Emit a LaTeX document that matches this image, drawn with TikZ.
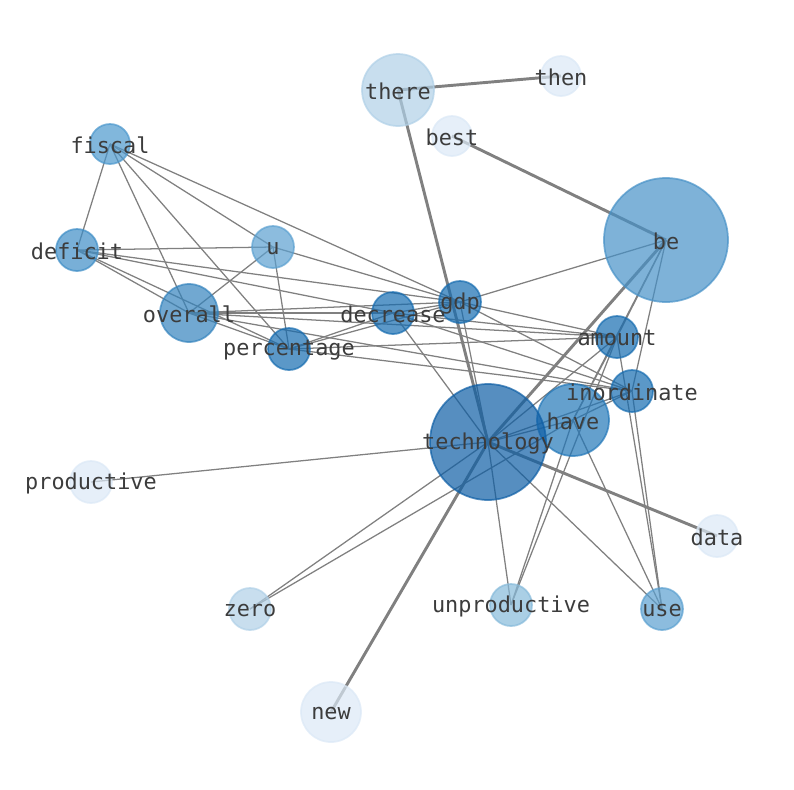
\documentclass[tikz,border=0pt]{standalone}
\usepackage{fontspec}
\setmonofont{DejaVu Sans Mono}
\usetikzlibrary{backgrounds}
\definecolor{linkgray}{RGB}{128,128,128}
\definecolor{wordink}{RGB}{60,60,60}
\definecolor{c_tech}{RGB}{14,94,165}
\definecolor{c_be}{RGB}{71,145,199}
\definecolor{c_have}{RGB}{34,119,184}
\definecolor{c_dark}{RGB}{22,108,176}
\definecolor{c_overall}{RGB}{52,131,189}
\definecolor{c_fiscal}{RGB}{76,152,205}
\definecolor{c_deficit}{RGB}{62,141,198}
\definecolor{c_u}{RGB}{91,160,208}
\definecolor{c_unprod}{RGB}{134,186,218}
\definecolor{c_light}{RGB}{176,208,231}
\definecolor{c_pale}{RGB}{219,232,246}

\begin{document}
\begin{tikzpicture}[x=.75pt,y=-.75pt,
    word/.style={circle,inner sep=0pt,minimum size=31.5pt,fill=#1,draw=#1,fill opacity=.7,draw opacity=.7,line width=1.3pt},
    wordtext/.style={font=\ttfamily\fontsize{16.4}{18}\selectfont,text=wordink,inner sep=0pt,yshift=-1pt},
    link/.style={linkgray,line width=.95pt},
    heavylink/.style={linkgray,line width=2.2pt}]
  \useasboundingbox (0,0) rectangle (794,790);

  % words
  \node[word=c_light,minimum size=54pt] (there) at (398,90) {};
  \node[word=c_pale,minimum size=30pt] (then) at (561,76) {};
  \node[word=c_pale,minimum size=30pt] (best) at (452,136) {};
  \node[word=c_fiscal,minimum size=30pt] (fiscal) at (110,144) {};
  \node[word=c_be,minimum size=93pt] (be) at (666,240) {};
  \node[word=c_deficit] (deficit) at (77,250) {};
  \node[word=c_u] (u) at (273,247) {};
  \node[word=c_overall,minimum size=43.5pt] (overall) at (189,313) {};
  \node[word=c_dark] (decrease) at (393,313) {};
  \node[word=c_dark] (gdp) at (460,302) {};
  \node[word=c_dark] (percentage) at (289,349) {};
  \node[word=c_dark] (amount) at (617,337) {};
  \node[word=c_dark] (inordinate) at (632,391) {};
  \node[word=c_have,minimum size=54pt] (have) at (573,420) {};
  \node[word=c_tech,minimum size=87pt] (technology) at (488,442) {};
  \node[word=c_pale] (productive) at (91,482) {};
  \node[word=c_pale] (data) at (717,536) {};
  \node[word=c_light] (zero) at (250,609) {};
  \node[word=c_unprod] (unproductive) at (511,605) {};
  \node[word=c_u] (use) at (662,609) {};
  \node[word=c_pale,minimum size=45pt] (new) at (331,712) {};

  % co-occurrence links
  \begin{scope}[on background layer]
    \draw[heavylink] (there.center) -- (then.center);
    \draw[heavylink] (there.center) -- (technology.center);
    \draw[heavylink] (best.center) -- (be.center);
    \draw[heavylink] (be.center) -- (technology.center);
    \draw[heavylink] (technology.center) -- (new.center);
    \draw[heavylink] (technology.center) -- (data.center);
    \foreach \a/\b in {fiscal/deficit,fiscal/overall,fiscal/percentage,fiscal/u,fiscal/gdp,
        deficit/u,deficit/overall,deficit/percentage,deficit/gdp,deficit/decrease,
        u/overall,u/percentage,u/gdp,
        overall/percentage,overall/gdp,overall/decrease,overall/inordinate,overall/amount,
        percentage/gdp,percentage/decrease,percentage/amount,percentage/inordinate,
        decrease/gdp,decrease/amount,decrease/inordinate,decrease/technology,
        gdp/amount,gdp/inordinate,gdp/technology,gdp/be,
        be/amount,be/inordinate,be/have,
        amount/have,amount/technology,amount/unproductive,amount/use,
        inordinate/have,inordinate/technology,inordinate/use,
        have/technology,have/zero,have/unproductive,have/use,
        technology/productive,technology/zero,technology/unproductive,technology/use}
      \draw[link] (\a.center) -- (\b.center);
  \end{scope}

  % labels
  \foreach \w in {there,then,best,fiscal,be,deficit,u,overall,decrease,gdp,percentage,
      amount,inordinate,have,technology,productive,data,zero,unproductive,use,new}
    \node[wordtext] (\w-text) at (\w) {\w};
\end{tikzpicture}
\end{document}
